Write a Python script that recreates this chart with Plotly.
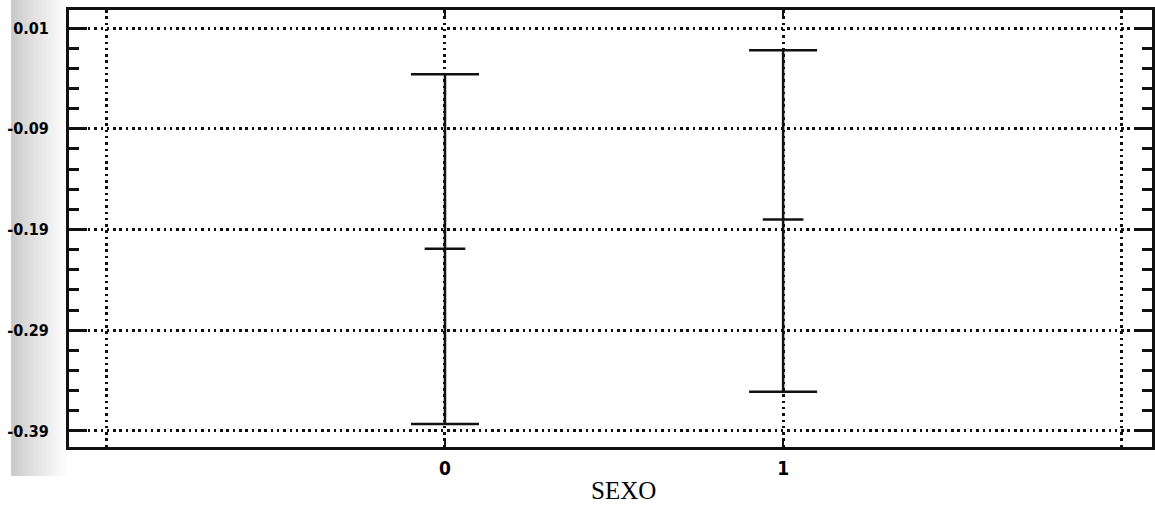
import plotly.graph_objects as go

# Group codes on the x axis
groups = [0, 1]
group_labels = ["0", "1"]

# Mean and interval bounds for each group
means = [-0.209, -0.180]
lower = [-0.383, -0.351]
upper = [-0.036, -0.012]

# Y axis tick values and their labels
y_tickvals = [0.01, -0.09, -0.19, -0.29, -0.39]
y_ticktext = ["0.01", "-0.09", "-0.19", "-0.29", "-0.39"]

W, H = 1155, 512
L, R, T, B = 69, 0, 10, 65
plot_w = W - L - R
plot_h = H - T - B

err_plus = [u - m for u, m in zip(upper, means)]
err_minus = [m - lo for m, lo in zip(means, lower)]

ink = "#111111"
font_stack = "Liberation Sans Narrow, DejaVu Sans Condensed, DejaVu Sans Mono"
y_tick_font = dict(family=font_stack, size=16, color="#000000", weight="bold")
x_tick_font = dict(family=font_stack, size=19, color="#000000", weight="bold")

fig = go.Figure()
fig.add_trace(go.Scatter(
    x=groups,
    y=means,
    mode="markers",
    marker=dict(symbol="line-ew", size=29, line=dict(width=2.5, color=ink)),
    error_y=dict(type="data", symmetric=False, array=err_plus, arrayminus=err_minus,
                 color=ink, thickness=2.5, width=34),
    showlegend=False,
    hoverinfo="skip",
))

# Scanner shadow along the left page edge
def px_to_paper_x(px):
    return (px - L) / plot_w

def px_to_paper_y(py):
    return (H - B - py) / plot_h

shapes = []
x0, x1 = 11, 66
steps = 28
for i in range(steps):
    a = x0 + (x1 - x0) * i / steps
    b = x0 + (x1 - x0) * (i + 1) / steps
    t = (i + 0.5) / steps
    g = int(round(196 + (252 - 196) * t ** 0.75))
    shapes.append(dict(
        type="rect", xref="paper", yref="paper", layer="below",
        x0=px_to_paper_x(a), x1=px_to_paper_x(b) + 0.0005,
        y0=px_to_paper_y(476), y1=px_to_paper_y(0),
        line=dict(width=0), fillcolor=f"rgb({g},{g},{g})",
    ))

grid_dash = "2.5px,3.8px"

fig.update_layout(
    width=W, height=H,
    margin=dict(l=L, r=R, t=T, b=B, pad=0),
    paper_bgcolor="white",
    plot_bgcolor="rgba(0,0,0,0)",
    shapes=shapes,
    xaxis=dict(
        range=[-1.112, 2.091],
        tickmode="array", tickvals=groups, ticktext=group_labels,
        ticks="inside", ticklen=8, tickwidth=2, tickcolor=ink,
        tickfont=x_tick_font, ticklabelstandoff=2,
        showgrid=True, gridcolor=ink, gridwidth=2.5, griddash=grid_dash,
        minor=dict(tickmode="array", tickvals=[-1, 2], showgrid=True,
                   gridcolor=ink, gridwidth=2.5, griddash=grid_dash, ticks=""),
        showline=True, linecolor=ink, linewidth=3, mirror="allticks",
        zeroline=False, fixedrange=True,
    ),
    yaxis=dict(
        range=[-0.4059, 0.0279],
        tickmode="array", tickvals=y_tickvals, ticktext=y_ticktext,
        ticks="inside", ticklen=18, tickwidth=3, tickcolor=ink,
        tickfont=y_tick_font, ticklabelstandoff=14,
        minor=dict(dtick=0.02, tick0=0.01, ticks="inside", ticklen=10,
                   tickwidth=2.5, tickcolor=ink, showgrid=False),
        showgrid=True, gridcolor=ink, gridwidth=2.5, griddash=grid_dash,
        showline=True, linecolor=ink, linewidth=3, mirror="allticks",
        zeroline=False, fixedrange=True,
    ),
    annotations=[dict(
        text="SEXO", xref="paper", yref="paper",
        x=px_to_paper_x(625), y=px_to_paper_y(491),
        xanchor="center", yanchor="middle", showarrow=False,
        font=dict(family="Liberation Serif", size=25, color="#000000"),
    )],
)

fig.write_html("out.html", config=dict(displayModeBar=False))
